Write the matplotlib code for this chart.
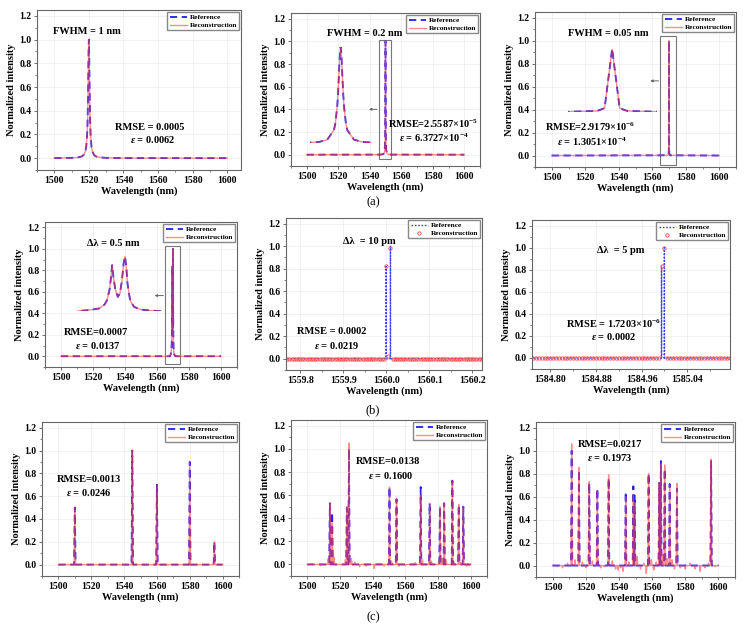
import numpy as np
import matplotlib
matplotlib.use("Agg")
import matplotlib.pyplot as plt
from matplotlib.patches import Rectangle
from matplotlib.ticker import FormatStrFormatter, MultipleLocator

plt.rcParams.update({
    "font.family": "Liberation Serif",
    "font.weight": "bold",
    "axes.labelweight": "bold",
    "mathtext.fontset": "custom",
    "mathtext.rm": "Liberation Serif:bold",
    "mathtext.it": "Liberation Serif:italic:bold",
    "mathtext.bf": "Liberation Serif:bold",
})

# ---- (a) single peaks ----
p1_wl = [1500, 1510, 1514, 1516, 1517, 1518, 1518.5, 1519, 1519.25, 1519.5, 1519.75, 1519.875,
         1520, 1520.125, 1520.25, 1520.5, 1520.75, 1521, 1521.5, 1522, 1523, 1524, 1526, 1530, 1540, 1600]
p1_int = [0.0006, 0.0025, 0.007, 0.015, 0.027, 0.059, 0.1, 0.2, 0.31, 0.5, 0.8, 0.94,
          1.0, 0.94, 0.8, 0.5, 0.31, 0.2, 0.1, 0.059, 0.027, 0.015, 0.007, 0.0025, 0.0006, 0.0]

p2_wl = [1500, 1546, 1548, 1548.8, 1549.2, 1549.5, 1549.75, 1549.8, 1549.875, 1549.9, 1549.925, 1549.95,
         1549.975, 1550, 1550.025, 1550.05, 1550.075, 1550.1, 1550.125, 1550.2, 1550.25, 1550.5, 1550.8,
         1551.2, 1552, 1554, 1600]
p2_int = [0.0, 0.0006, 0.0025, 0.007, 0.015, 0.038, 0.138, 0.2, 0.39, 0.5, 0.64, 0.8,
          0.94, 1.0, 0.94, 0.8, 0.64, 0.5, 0.39, 0.2, 0.138, 0.038, 0.015,
          0.007, 0.0025, 0.0006, 0.0]

p3_wl = [1500, 1569.4, 1569.8, 1569.9, 1570.0, 1570.1, 1570.2, 1570.6, 1600]
p3_int = [0.0, 0.002, 0.015, 0.059, 1.0, 0.059, 0.015, 0.002, 0.0]

# ---- (b) double peaks ----
p4_wl = [1500, 1568.1, 1568.6, 1569.0, 1569.2, 1569.3, 1569.4, 1569.45, 1569.5, 1569.55, 1569.62, 1569.72,
         1569.8, 1569.88, 1569.95, 1570.0, 1570.05, 1570.1, 1570.2, 1570.35, 1570.6, 1571.0, 1571.45, 1600]
p4_int = [0.0, 0.0, 0.02, 0.05, 0.12, 0.2, 0.4, 0.6, 0.84, 0.62, 0.4, 0.26,
          0.32, 0.55, 0.88, 1.0, 0.82, 0.5, 0.2, 0.08, 0.03, 0.01, 0.0, 0.0]

p5_ref_wl = [1560.000, 1560.010]
p5_ref_int = [0.82, 1.0]
p5_rec_wl = [1560.000, 1560.005, 1560.010]
p5_rec_int = [0.82, 0.02, 0.98]

p6_ref_wl = [1584.995, 1585.000]
p6_ref_int = [0.83, 1.0]
p6_rec_wl = [1584.995, 1585.000]
p6_rec_int = [0.83, 1.0]

# ---- (c) multi-peak spectra ----
p7_wl = [1510, 1545, 1560, 1580, 1595]
p7_ref = [0.5, 1.0, 0.7, 0.9, 0.2]
p7_rec = [0.5, 1.0, 0.7, 0.9, 0.2]

p8_wl = [1513.8, 1515.2, 1524.2, 1525.5, 1550.3, 1554.6, 1569.4, 1574.9, 1581.2, 1583.8, 1588.8, 1592.7, 1595.5]
p8_ref = [0.53, 0.45, 0.49, 1.0, 0.67, 0.565, 0.67, 0.53, 0.50, 0.53, 0.725, 0.515, 0.50]
p8_rec = [0.53, 0.36, 0.50, 1.05, 0.67, 0.57, 0.60, 0.53, 0.50, 0.53, 0.72, 0.52, 0.50]
p8_noise_wl = [1508, 1512.8, 1516.4, 1523.3, 1527, 1529, 1532, 1536, 1541, 1544, 1547, 1551.5,
               1556, 1560, 1566, 1570.5, 1576, 1580.5, 1582.5, 1585, 1590, 1593.8, 1597.5, 1599]
p8_noise = [-0.01, 0.05, 0.06, 0.04, 0.05, 0.02, -0.02, -0.015, -0.035, 0.01, -0.015, 0.03,
            -0.015, -0.01, 0.015, 0.04, 0.03, 0.02, 0.05, 0.04, 0.02, 0.02, -0.015, -0.01]

p9_wl = [1511.5, 1515.9, 1522.1, 1527.0, 1533.8, 1544.1, 1548.7, 1549.5, 1557.9, 1564.3, 1565.3,
         1567.6, 1570.6, 1575.0, 1595.6]
p9_ref = [1.0, 0.83, 0.72, 0.67, 0.76, 0.64, 0.69, 0.61, 0.80, 0.72, 0.91, 0.84, 0.71, 0.67, 0.91]
p9_rec = [1.06, 0.855, 0.73, 0.65, 0.79, 0.60, 0.62, 0.55, 0.80, 0.72, 0.88, 0.875, 0.70, 0.715, 0.925]
p9_noise_wl = [1503, 1506, 1509, 1513.5, 1518, 1520, 1524, 1529, 1531, 1536, 1538, 1539.5, 1541, 1542.5,
               1546, 1551, 1553, 1555, 1556.5, 1559.5, 1561, 1562.5, 1566.5, 1569, 1572, 1573.5, 1577,
               1580, 1583, 1586, 1589, 1592, 1594, 1598]
p9_noise = [-0.01, -0.02, 0.02, 0.05, 0.03, -0.02, 0.04, -0.02, -0.01, 0.04, -0.03, -0.04, -0.02, -0.05,
            0.03, 0.08, -0.03, 0.02, -0.07, 0.05, -0.04, 0.03, 0.1, 0.06, 0.05, -0.03, -0.02,
            -0.03, 0.02, -0.03, -0.05, -0.02, 0.02, -0.01]

W, H = 745, 633
REF_KW = dict(color="#1f1fff", lw=1.3, ls=(0, (4, 2.5)), label="Reference")
REC_KW = dict(color="#ff4040", lw=1.0, alpha=0.6, label="Reconstruction")
DOT_KW = dict(color="#3a3aff", lw=1.0, ls=(0, (1.2, 1.2)), label="Reference")
CIRC_KW = dict(ls="none", marker="o", ms=2.4, mfc="none", mec="#ff4848", mew=0.6, label="Reconstruction")


def sticks(centers, heights, lo, hi, half_width):
    pts = [(lo, 0.0), (hi, 0.0)]
    for c, h in zip(centers, heights):
        pts += [(c - half_width, 0.0), (c, h), (c + half_width, 0.0)]
    pts.sort()
    return np.array(pts).T


def sampled(lo, hi, step, wl, vals):
    grid = np.round(np.arange(lo, hi + step / 2, step), 3)
    out = np.zeros_like(grid)
    for w, v in zip(wl, vals):
        out[np.isclose(grid, w, rtol=0, atol=1e-6)] = v
    return grid, out


def axes_px(fig, left, top, right, bottom):
    return fig.add_axes([left / W, 1 - bottom / H, (right - left) / W, (bottom - top) / H])


def style(ax, xlim, major, minor, fmt="%d"):
    ax.set_xlim(*xlim)
    ax.set_ylim(-0.1, 1.25)
    ax.xaxis.set_major_locator(MultipleLocator(major))
    ax.xaxis.set_minor_locator(MultipleLocator(minor))
    ax.xaxis.set_major_formatter(FormatStrFormatter(fmt))
    ax.yaxis.set_major_locator(MultipleLocator(0.2))
    ax.yaxis.set_minor_locator(MultipleLocator(0.1))
    ax.yaxis.set_major_formatter(FormatStrFormatter("%.1f"))
    ax.tick_params(which="both", direction="out", labelsize=7, color="#555", pad=1.5)
    ax.tick_params(which="major", length=2.5, width=0.6)
    ax.tick_params(which="minor", length=1.5, width=0.5)
    ax.grid(True, color="#ebebeb", lw=0.5)
    ax.set_axisbelow(True)
    for s in ax.spines.values():
        s.set_color("#666")
        s.set_linewidth(0.8)
    ax.set_xlabel("Wavelength (nm)", fontsize=7.5, labelpad=1)
    ax.set_ylabel("Normalized intensity", fontsize=7.5, labelpad=2)
    ax.legend(loc="upper right", fontsize=5.3, fancybox=False, edgecolor="#888", framealpha=1,
              borderaxespad=0.25, borderpad=0.3, labelspacing=0.25, handlelength=2.3, handletextpad=0.4)


def note(ax, x, y, s):
    ax.text(x, y, s, ha="center", va="center", fontsize=7.5, fontweight="bold")


def inset(ax, bounds, xlim, x, y):
    ins = ax.inset_axes(bounds, transform=ax.transData)
    ins.plot(x, y, **REF_KW)
    ins.plot(x, y, **REC_KW)
    ins.set_xlim(*xlim)
    ins.set_ylim(0, 1.0)
    ins.axis("off")


def zoom_box(ax, x0, x1, y0, y1, ya, xa0, xa1):
    ax.add_patch(Rectangle((x0, y0), x1 - x0, y1 - y0, fill=False, ec="#777", lw=0.8))
    ax.annotate("", xy=(xa1, ya), xytext=(xa0, ya),
                arrowprops=dict(arrowstyle="-|>", color="#666", lw=0.7, mutation_scale=3.5,
                                shrinkA=0, shrinkB=0))


fig = plt.figure(figsize=(W / 100, H / 100), dpi=100)

# (a)
ax = axes_px(fig, 37, 10, 241, 170)
ax.plot(p1_wl, p1_int, **REF_KW)
ax.plot(p1_wl, p1_int, **REC_KW)
style(ax, (1490, 1608), 20, 10)
note(ax, 1519, 1.065, "FWHM = 1 nm")
note(ax, 1555, 0.258, "RMSE = 0.0005")
note(ax, 1557, 0.154, r"$\varepsilon$ = 0.0062")

ax = axes_px(fig, 291, 13, 480, 166)
ax.plot(p2_wl, p2_int, **REF_KW)
ax.plot(p2_wl, p2_int, **REC_KW)
style(ax, (1490, 1610), 20, 10)
inset(ax, [1502, 0.1, 39, 0.85], (1548.85, 1551.15), p2_wl, p2_int)
zoom_box(ax, 1546, 1553.5, -0.035, 1.015, 0.4, 1544.5, 1539.5)
note(ax, 1537, 1.068, "FWHM = 0.2 nm")
note(ax, 1580, 0.274, r"RMSE=2.5587$\times$10$^{-5}$")
note(ax, 1581, 0.145, r"$\varepsilon$ = 6.3727$\times$10$^{-4}$")

ax = axes_px(fig, 535, 12, 736, 167)
ax.plot(p3_wl, p3_int, **REF_KW)
ax.plot(p3_wl, p3_int, **REC_KW)
style(ax, (1490, 1610), 20, 10)
inset(ax, [1510, 0.38, 53, 0.55], (1569.42, 1570.6), p3_wl, p3_int)
zoom_box(ax, 1564.8, 1574.3, -0.085, 1.038, 0.65, 1563.8, 1558.8)
note(ax, 1534, 1.061, "FWHM = 0.05 nm")
note(ax, 1522.7, 0.25, r"RMSE=2.9179$\times$10$^{-6}$")
note(ax, 1523.7, 0.12, r"$\varepsilon$ = 1.3051$\times$10$^{-4}$")

# (b)
ax = axes_px(fig, 45, 222, 237, 367)
ax.plot(p4_wl, p4_int, **REF_KW)
ax.plot(p4_wl, p4_int, **REC_KW)
style(ax, (1490, 1610), 20, 10)
inset(ax, [1510, 0.42, 53, 0.51], (1568.125, 1571.44), p4_wl, p4_int)
zoom_box(ax, 1564.8, 1574.3, -0.076, 1.026, 0.565, 1564.0, 1558.5)
note(ax, 1532.6, 1.053, "Δλ = 0.5 nm")
note(ax, 1522, 0.223, "RMSE=0.0007")
note(ax, 1523, 0.10, r"$\varepsilon$ = 0.0137")

ax = axes_px(fig, 286, 218, 482, 370)
gx, gy = sampled(1559.77, 1560.225, 0.005, p5_rec_wl, p5_rec_int)
rx, ry = sticks(p5_ref_wl, p5_ref_int, 1559.77, 1560.225, 0.0002)
ax.plot(rx, ry, **DOT_KW)
ax.plot(gx, gy, **CIRC_KW)
style(ax, (1559.767, 1560.223), 0.1, 0.05, "%.1f")
note(ax, 1559.961, 1.044, "Δλ  = 10 pm")
note(ax, 1559.874, 0.24, "RMSE = 0.0002")
note(ax, 1559.884, 0.12, r"$\varepsilon$ = 0.0219")

ax = axes_px(fig, 532, 220, 730, 369)
gx, gy = sampled(1584.77, 1585.115, 0.005, p6_rec_wl, p6_rec_int)
rx, ry = sticks(p6_ref_wl, p6_ref_int, 1584.77, 1585.115, 0.0002)
ax.plot(rx, ry, **DOT_KW)
ax.plot(gx, gy, **CIRC_KW)
style(ax, (1584.768, 1585.115), 0.08, 0.04, "%.2f")
note(ax, 1584.923, 0.975, "Δλ  = 5 pm")
note(ax, 1584.911, 0.306, r"RMSE = 1.7203$\times$10$^{-6}$")
note(ax, 1584.911, 0.19, r"$\varepsilon$ = 0.0002")

# (c)
ax = axes_px(fig, 42, 422, 239, 576)
ax.plot(*sticks(p7_wl, p7_ref, 1500, 1600, 0.45), **REF_KW)
ax.plot(*sticks(p7_wl, p7_rec, 1500, 1600, 0.45), **REC_KW)
style(ax, (1490, 1610), 20, 10)
note(ax, 1518.8, 0.75, "RMSE=0.0013")
note(ax, 1518.8, 0.635, r"$\varepsilon$ = 0.0246")

ax = axes_px(fig, 291, 420, 487, 576)
ax.plot(*sticks(p8_wl, p8_ref, 1500, 1600, 0.4), **REF_KW)
ax.plot(*sticks(p8_wl + p8_noise_wl, p8_rec + p8_noise, 1500, 1600, 0.4), **REC_KW)
style(ax, (1490, 1610), 20, 10)
note(ax, 1549.5, 0.887, "RMSE=0.0138")
note(ax, 1551, 0.77, r"$\varepsilon$ = 0.1600")

ax = axes_px(fig, 536, 422, 735, 577)
ax.plot(*sticks(p9_wl, p9_ref, 1500, 1600, 0.4), **REF_KW)
ax.plot(*sticks(p9_wl + p9_noise_wl, p9_rec + p9_noise, 1500, 1600, 0.4), **REC_KW)
style(ax, (1490, 1610), 20, 10)
note(ax, 1534.4, 1.058, "RMSE=0.0217")
note(ax, 1534.4, 0.94, r"$\varepsilon$ = 0.1973")

for lab, ypx in (("(a)", 202), ("(b)", 410), ("(c)", 617)):
    fig.text(373 / W, 1 - ypx / H, lab, ha="center", va="center", fontsize=9, fontweight="normal")

fig.savefig("out.png", dpi=100)
